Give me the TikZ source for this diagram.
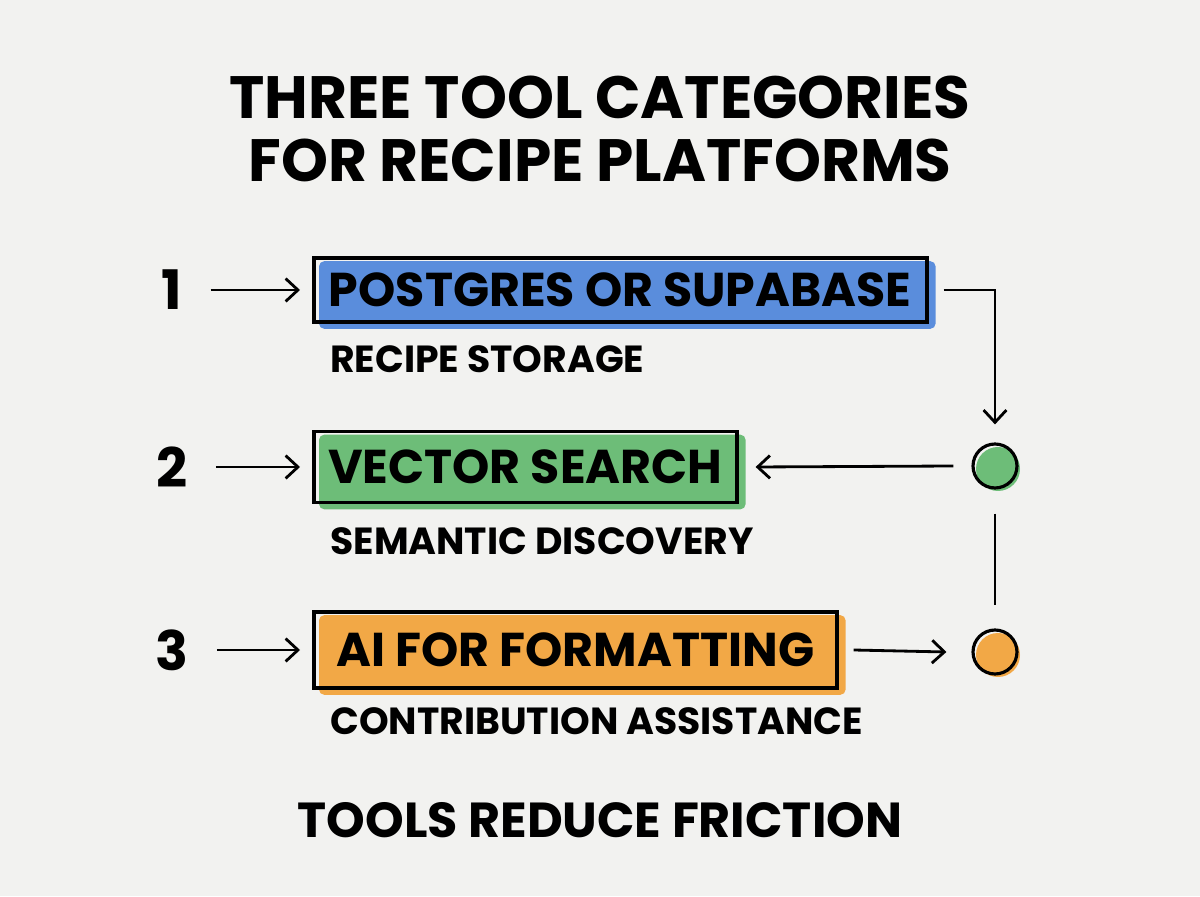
\documentclass[tikz,border=0pt]{standalone}
\usepackage{fontspec}
\setmainfont{Poppins}
\usetikzlibrary{arrows.meta,backgrounds}
\definecolor{paper}{HTML}{F2F2F0}
\definecolor{toolblue}{HTML}{5A8DDC}
\definecolor{toolgreen}{HTML}{6DBD78}
\definecolor{toolorange}{HTML}{F2A846}
\tikzset{
  arr/.style={line width=1.6pt,-{Straight Barb[length=7pt,width=13pt,line width=1.6pt]}},
  toolbox/.style={draw=black,line width=2.1pt,inner sep=0pt,font=\fontsize{27}{30}\selectfont\bfseries},
  caption/.style={inner sep=0pt,anchor=base west,font=\fontsize{21.5}{24}\selectfont\bfseries},
  num/.style={inner sep=0pt,font=\fontsize{31}{34}\selectfont\bfseries},
  dot/.style={circle,draw=black,line width=1.8pt,minimum size=0.88cm,inner sep=0pt},
}
\begin{document}
\begin{tikzpicture}[x=0.02cm,y=0.02cm]
  \useasboundingbox (0,0) rectangle (1200,896);
  % title
  \node[align=center,font=\fontsize{34}{36}\selectfont\bfseries] (title) at (600,767)
    {THREE TOOL CATEGORIES\\FOR RECIPE PLATFORMS};
  % boxes
  \node[toolbox,anchor=west,minimum width=12.26cm,minimum height=1.28cm] (b1) at (312,606) {POSTGRES OR SUPABASE};
  \node[toolbox,anchor=west,minimum width=8.46cm,minimum height=1.42cm] (b2) at (312,429) {VECTOR SEARCH};
  \node[toolbox,anchor=west,minimum width=10.46cm,minimum height=1.52cm] (b3) at (312,246) {AI FOR FORMATTING};
  \begin{scope}[on background layer]
    \fill[paper] (0,0) rectangle (1200,896);
    \fill[toolblue,rounded corners=3pt] ([shift={(7,-5)}]b1.south west) rectangle ([shift={(7,-5)}]b1.north east);
    \fill[toolgreen,rounded corners=3pt] ([shift={(7,-5)}]b2.south west) rectangle ([shift={(7,-5)}]b2.north east);
    \fill[toolorange,rounded corners=3pt] ([shift={(7,-5)}]b3.south west) rectangle ([shift={(7,-5)}]b3.north east);
  \end{scope}
  % captions
  \node[caption] (s1) at (330,523) {RECIPE STORAGE};
  \node[caption] (s2) at (330,341) {SEMANTIC DISCOVERY};
  \node[caption] (s3) at (330,161) {CONTRIBUTION ASSISTANCE};
  % numbers
  \node[num] (n1) at (172,606) {1};
  \node[num] (n2) at (172,429) {2};
  \node[num] (n3) at (172,246) {3};
  % circles
  \fill[toolgreen] (998,427) circle (22);
  \fill[toolorange] (998,241) circle (22);
  \node[dot] (c2) at (995,430) {};
  \node[dot] (c3) at (995,244) {};
  % connectors
  \draw[arr] ([shift={(28,0)}]n1.east) -- ([shift={(-12,0)}]b1.west);
  \draw[arr] ([shift={(28,0)}]n2.east) -- ([shift={(-12,0)}]b2.west);
  \draw[arr] ([shift={(28,0)}]n3.east) -- ([shift={(-12,0)}]b3.west);
  \draw[arr] ([shift={(15,0)}]b1.east) -| ([shift={(0,18)}]c2.north);
  \draw[arr] ([shift={(-18,0)}]c2.west) -- ([shift={(17,0)}]b2.east);
  \draw[line width=1.6pt] ([shift={(0,-24)}]c2.south) -- ([shift={(0,23)}]c3.north);
  \draw[arr] ([shift={(15,0)}]b3.east) -- ([shift={(-25,0)}]c3.west);
  % footer
  \node[font=\fontsize{28}{32}\selectfont\bfseries] (foot) at (600,76) {TOOLS REDUCE FRICTION};
\end{tikzpicture}
\end{document}
